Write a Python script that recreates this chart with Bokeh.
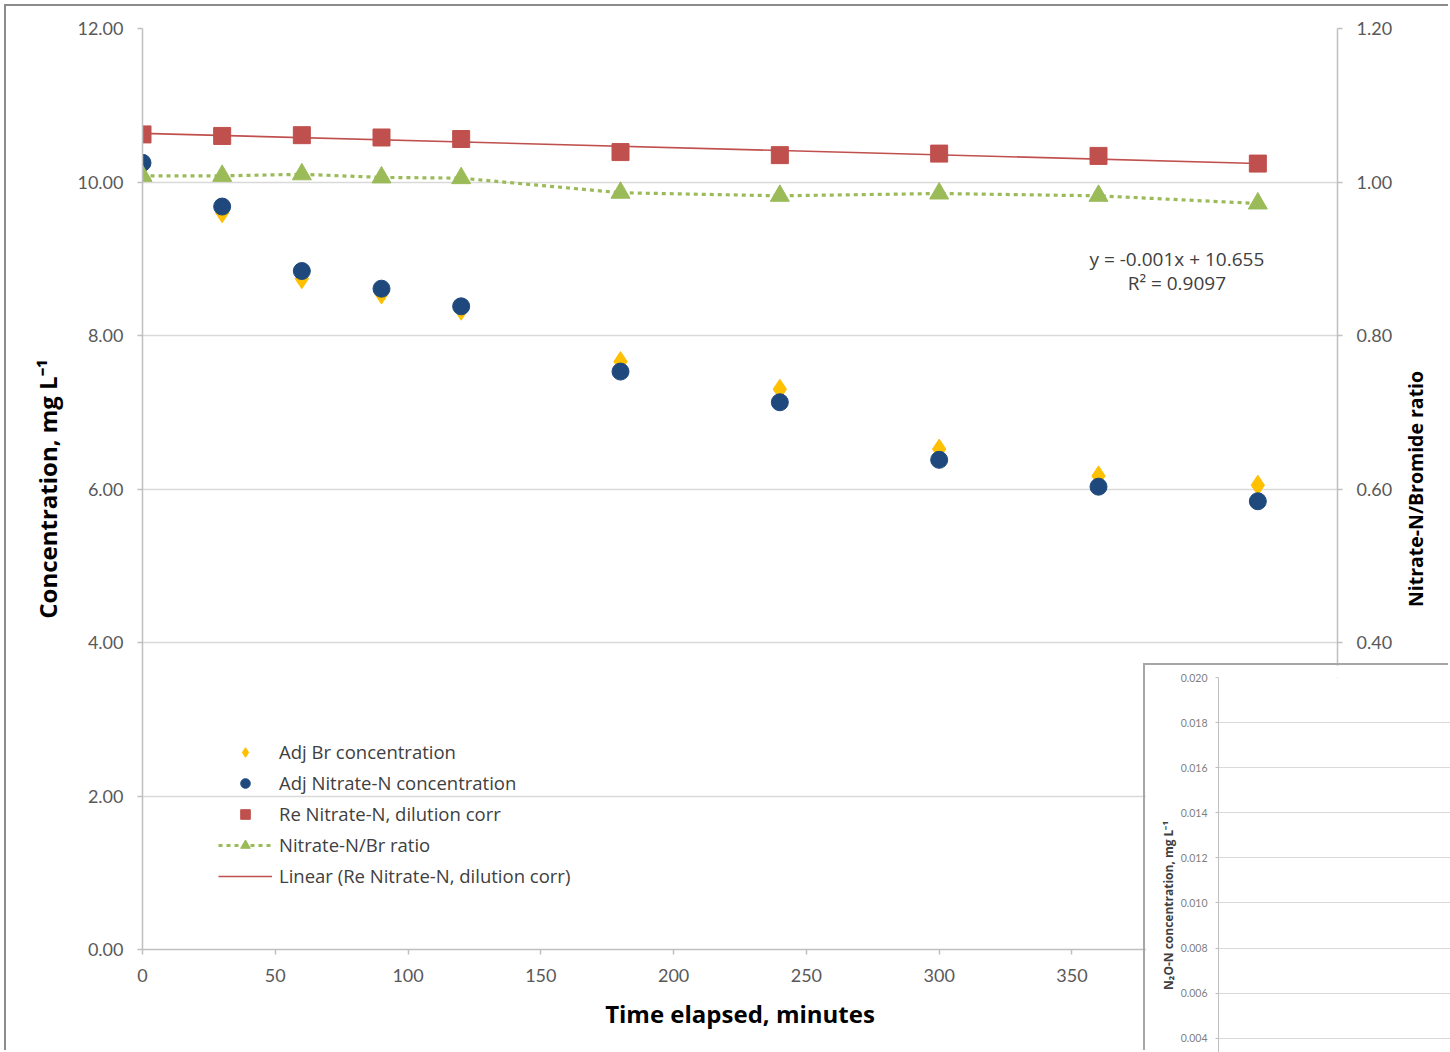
import math
import numpy as np
from bokeh.plotting import figure
from bokeh.models import (LinearAxis, Range1d, NumeralTickFormatter, FixedTicker,
                          Legend, LegendItem, Label)
from bokeh.embed import file_html
from bokeh.resources import INLINE

# ---------------- data ----------------
time_min = [0, 30, 60, 90, 120, 180, 240, 300, 360, 420]
adj_br = [10.21, 9.60, 8.74, 8.54, 8.33, 7.66, 7.30, 6.52, 6.17, 6.05]
adj_nitrate = [10.25, 9.68, 8.84, 8.61, 8.38, 7.53, 7.13, 6.38, 6.03, 5.84]
re_nitrate = [10.62, 10.60, 10.61, 10.58, 10.56, 10.39, 10.35, 10.37, 10.34, 10.24]
ratio = [1.008, 1.008, 1.010, 1.006, 1.005, 0.986, 0.982, 0.985, 0.982, 0.972]

x_ticks = [0, 50, 100, 150, 200, 250, 300, 350, 400, 450]
y_ticks = [0, 2, 4, 6, 8, 10, 12]
ratio_ticks = [0.0, 0.2, 0.4, 0.6, 0.8, 1.0, 1.2]
inset_ticks = [0.004, 0.006, 0.008, 0.010, 0.012, 0.014, 0.016, 0.018, 0.020]

eq_text = "y = -0.001x + 10.655"
r2_text = "R\u00b2 = 0.9097"
eq_pos = (389.5, 9.00)
r2_pos = (389.5, 8.68)

x_title = "Time elapsed, minutes"
y_title = "Concentration, mg L\u207b\u00b9"
y2_title = "Nitrate-N/Bromide ratio"
inset_title = "N\u2082O-N concentration, mg L\u207b\u00b9"

FONT = "Lato"
TFONT = "Open Sans"
GRID = "#D9D9D9"
AX = "#BFBFBF"
TICKTXT = "#595959"
PAGE_W, PAGE_H = 1450, 1052

# ---------------- main chart ----------------
main = figure(width=1444, height=1046, frame_width=1195, frame_height=921,
              min_border_left=136, min_border_right=113,
              min_border_top=22, min_border_bottom=103,
              x_range=Range1d(0, 450), y_range=Range1d(0, 12),
              output_backend="svg", toolbar_location=None,
              outline_line_color=None, margin=(6, 0, 0, 6),
              styles={"box-shadow": "-2px -2px 0px 0px #8c8c8c"})
main.extra_y_ranges = {"ratio": Range1d(0, 1.2)}

raxis = LinearAxis(y_range_name="ratio")
main.add_layout(raxis, "right")

main.xaxis.ticker = FixedTicker(ticks=x_ticks)
main.yaxis[0].ticker = FixedTicker(ticks=y_ticks)
raxis.ticker = FixedTicker(ticks=ratio_ticks)
main.yaxis[0].formatter = NumeralTickFormatter(format="0.00")
raxis.formatter = NumeralTickFormatter(format="0.00")

main.xgrid.visible = False
main.ygrid.ticker = FixedTicker(ticks=y_ticks)
main.ygrid.grid_line_color = GRID
main.ygrid.grid_line_width = 1.5

for ax in [main.xaxis[0], main.yaxis[0], raxis]:
    ax.axis_line_color = AX
    ax.axis_line_width = 1.5
    ax.major_tick_line_color = AX
    ax.major_tick_line_width = 1.5
    ax.major_tick_in = 0
    ax.major_tick_out = 5
    ax.minor_tick_line_color = None
    ax.major_label_text_font = FONT
    ax.major_label_text_font_size = "18px"
    ax.major_label_text_color = TICKTXT
    ax.major_label_standoff = 14
    ax.axis_label_text_font = TFONT
    ax.axis_label_text_font_style = "bold"
    ax.axis_label_text_color = "#000000"
    ax.axis_label_standoff = 12

main.xaxis.major_label_standoff = 14
main.xaxis.axis_label = x_title
main.xaxis.axis_label_text_font_size = "24px"
main.xaxis.axis_label_standoff = 12
main.yaxis[0].axis_label = y_title
main.yaxis[0].axis_label_text_font_size = "24px"
main.yaxis[0].axis_label_standoff = 10

RED = "#C0504D"
GREEN = "#9BBB59"
BLUE = "#1F497D"
YELLOW = "#FFC000"

coef = np.polyfit(time_min, re_nitrate, 1)
trend_x = [time_min[0], time_min[-1]]
trend_y = list(np.polyval(coef, trend_x))
r_trend = main.line(trend_x, trend_y, line_color=RED, line_width=1.6)

r_br = main.scatter(time_min, adj_br, marker="diamond", size=20,
                    fill_color=YELLOW, line_color=YELLOW)
r_no3 = main.scatter(time_min, adj_nitrate, marker="circle", size=17,
                     fill_color=BLUE, line_color=BLUE)
r_re = main.scatter(time_min, re_nitrate, marker="square", size=17,
                    fill_color=RED, line_color=RED)
r_ratio_l = main.line(time_min, ratio, y_range_name="ratio", line_color=GREEN,
                      line_width=3.2, line_dash="4 4")
r_ratio_m = main.scatter(time_min, ratio, y_range_name="ratio", marker="triangle",
                         size=19, fill_color=GREEN, line_color=GREEN)

legend = Legend(items=[
    LegendItem(label="Adj Br concentration", renderers=[r_br]),
    LegendItem(label="Adj Nitrate-N concentration", renderers=[r_no3]),
    LegendItem(label="Re Nitrate-N, dilution corr", renderers=[r_re]),
    LegendItem(label="Nitrate-N/Br ratio", renderers=[r_ratio_l, r_ratio_m]),
    LegendItem(label="Linear (Re Nitrate-N, dilution corr)", renderers=[r_trend]),
], location=(76, 61), border_line_color=None, background_fill_alpha=0,
    padding=0, margin=0, spacing=6, glyph_width=54, glyph_height=24,
    label_height=24, label_standoff=7, label_text_font=TFONT,
    label_text_font_size="18.5px", label_text_color="#404040")
main.add_layout(legend)

for txt, pos in [(eq_text, eq_pos), (r2_text, r2_pos)]:
    main.add_layout(Label(x=pos[0], y=pos[1], text=txt, text_align="center",
                          text_baseline="middle", text_font=TFONT,
                          text_font_size="19px", text_color="#404040"))


def title_strip(text, size, color, left, top, height, border):
    """Transparent narrow figure whose left-axis label is used as a vertical title
    (reads bottom to top, centred on its own frame)."""
    w = border + 2
    f = figure(width=w, height=height, frame_width=2, frame_height=height,
               min_border_left=border, min_border_right=0,
               min_border_top=0, min_border_bottom=0,
               x_range=Range1d(0, 1), y_range=Range1d(0, 1),
               output_backend="svg", toolbar_location=None,
               outline_line_color=None, background_fill_alpha=0,
               border_fill_alpha=0,
               margin=(top, PAGE_W - left - w, 0, left))
    f.xaxis.visible = False
    f.grid.visible = False
    ya = f.yaxis[0]
    ya.ticker = FixedTicker(ticks=[])
    ya.axis_line_color = None
    ya.major_tick_line_color = None
    ya.minor_tick_line_color = None
    ya.major_tick_out = 0
    ya.major_tick_in = 0
    ya.axis_label = text
    ya.axis_label_text_font = TFONT
    ya.axis_label_text_font_style = "bold"
    ya.axis_label_text_font_size = size
    ya.axis_label_text_color = color
    ya.axis_label_standoff = 0
    return f


# ---------------- inset (partially visible second chart) ----------------
inset = figure(width=305, height=387, frame_width=232, frame_height=375,
               min_border_left=73, min_border_right=0,
               min_border_top=12, min_border_bottom=0,
               x_range=Range1d(0, 1), y_range=Range1d(0.00337, 0.020),
               output_backend="svg", toolbar_location=None,
               outline_line_color=None, margin=(-387, 0, 0, 1145),
               styles={"box-shadow": "-2px -2px 0px 0px #A6A6A6"})
inset.xaxis.visible = False
inset.xgrid.visible = False
inset.ygrid.ticker = FixedTicker(ticks=inset_ticks)
inset.ygrid.grid_line_color = GRID
inset.yaxis.ticker = FixedTicker(ticks=inset_ticks)
inset.yaxis.formatter = NumeralTickFormatter(format="0.000")
inset.yaxis.axis_line_color = AX
inset.yaxis.major_tick_line_color = AX
inset.yaxis.major_tick_in = 0
inset.yaxis.major_tick_out = 3
inset.yaxis.minor_tick_line_color = None
inset.yaxis.major_label_text_font = FONT
inset.yaxis.major_label_text_font_size = "10.5px"
inset.yaxis.major_label_text_color = "#7F7F7F"
inset.yaxis.major_label_standoff = 8

# right-hand title of the main chart: frame spans y 28..949 -> top margin 28-1052
r_title = title_strip(y2_title, "19.5px", "#000000", left=1398, top=28 - PAGE_H,
                      height=921, border=30)
# inset title: strip spans y 758..1052, previous root ends at 949
i_title = title_strip(inset_title, "12px", "#404040", left=1156, top=758 - 949,
                      height=294, border=17)

p = [main, inset, r_title, i_title]
open("out.html", "w").write(file_html(p, INLINE))
